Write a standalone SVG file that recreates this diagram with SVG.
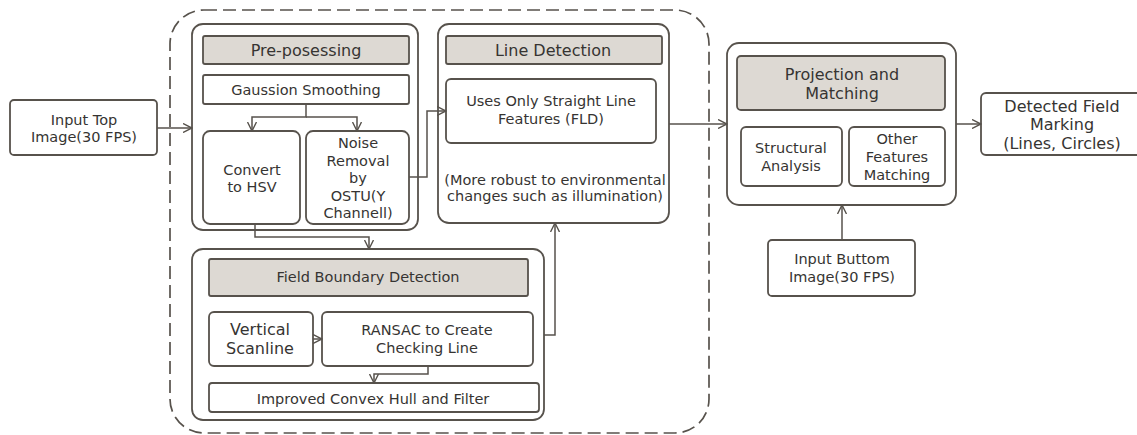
<svg xmlns="http://www.w3.org/2000/svg" width="1137" height="435" viewBox="0 0 1137 435">
<style>
.box{fill:#ffffff;stroke:#57524c;stroke-width:1.8}
.hdr{fill:#ddd9d3;stroke:#57524c;stroke-width:1.8}
.t{font-family:"DejaVu Sans",sans-serif;font-size:14.5px;fill:#363432;text-anchor:middle;dominant-baseline:central}
.h{font-size:16px}
.c{fill:none;stroke:#57524c;stroke-width:1.5}
</style>
<defs>
<marker id="ah" viewBox="0 0 10 10" refX="9" refY="5" markerWidth="10" markerHeight="10" markerUnits="userSpaceOnUse" orient="auto">
<path d="M0,0.5 L9,5 L0,9.5" fill="none" stroke="#57524c" stroke-width="1.4"/>
</marker>
</defs>
<rect width="1137" height="435" fill="#ffffff"/>
<rect x="170" y="10" width="539" height="423" rx="34" fill="none" stroke="#57524c" stroke-width="1.7" stroke-dasharray="13 6"/>

<g id="input-top">
<rect class="box" x="10" y="100" width="147" height="55" rx="4"/>
<text class="t" x="84" y="120">Input Top</text>
<text class="t" x="84" y="137">Image(30 FPS)</text>
</g>

<g id="pre-processing">
<rect class="box" x="192" y="24" width="226" height="206" rx="11"/>
<rect class="hdr" x="203" y="36" width="206" height="28" rx="2"/>
<text class="t h" x="306" y="50">Pre-posessing</text>
</g>
<g id="gaussian">
<rect class="box" x="203" y="75" width="206" height="29" rx="2"/>
<text class="t" x="306" y="90">Gaussion Smoothing</text>
</g>
<g id="convert-hsv">
<rect class="box" x="203" y="131" width="97" height="93" rx="7"/>
<text class="t" x="252" y="170">Convert</text>
<text class="t" x="252" y="187">to HSV</text>
</g>
<g id="noise-removal">
<rect class="box" x="306" y="131" width="103" height="93" rx="7"/>
<text class="t" x="358" y="143">Noise</text>
<text class="t" x="358" y="161">Removal</text>
<text class="t" x="358" y="178">by</text>
<text class="t" x="358" y="196">OSTU(Y</text>
<text class="t" x="358" y="213">Channell)</text>
</g>

<g id="line-detection">
<rect class="box" x="438" y="24" width="231" height="199" rx="11"/>
<rect class="hdr" x="446" y="36" width="216" height="28" rx="2"/>
<text class="t h" x="553" y="50">Line Detection</text>
<text class="t" x="555" y="180">(More robust to environmental</text>
<text class="t" x="555" y="196">changes such as illumination)</text>
</g>
<g id="straight-line">
<rect class="box" x="446" y="79" width="210" height="64" rx="5"/>
<text class="t" x="551" y="101">Uses Only Straight Line</text>
<text class="t" x="551" y="119">Features (FLD)</text>
</g>

<g id="field-boundary">
<rect class="box" x="192" y="249" width="352" height="171" rx="11"/>
<rect class="hdr" x="209" y="259" width="319" height="37" rx="2"/>
<text class="t" x="368" y="277">Field Boundary Detection</text>
</g>
<g id="vertical-scanline">
<rect class="box" x="209" y="312" width="104" height="54" rx="5"/>
<text class="t" style="font-size:16px" x="260" y="329">Vertical</text>
<text class="t" style="font-size:16px" x="260" y="348">Scanline</text>
</g>
<g id="ransac">
<rect class="box" x="322" y="312" width="211" height="54" rx="5"/>
<text class="t" x="427" y="330">RANSAC to Create</text>
<text class="t" x="427" y="348">Checking Line</text>
</g>
<g id="convex-hull">
<rect class="box" x="209" y="383" width="330" height="29" rx="3"/>
<text class="t" x="373" y="399">Improved Convex Hull and Filter</text>
</g>

<g id="projection">
<rect class="box" x="727" y="43" width="229" height="162" rx="12"/>
<rect class="hdr" x="737" y="56" width="208" height="54" rx="4"/>
<text class="t h" x="842" y="74">Projection and</text>
<text class="t h" x="842" y="93">Matching</text>
</g>
<g id="structural">
<rect class="box" x="741" y="127" width="101" height="59" rx="5"/>
<text class="t" x="791" y="148">Structural</text>
<text class="t" x="791" y="166">Analysis</text>
</g>
<g id="other-features">
<rect class="box" x="849" y="127" width="96" height="59" rx="5"/>
<text class="t" x="897" y="139">Other</text>
<text class="t" x="897" y="157">Features</text>
<text class="t" x="897" y="175">Matching</text>
</g>
<g id="input-bottom">
<rect class="box" x="768" y="240" width="147" height="56" rx="4"/>
<text class="t" x="842" y="259">Input Buttom</text>
<text class="t" x="842" y="277">Image(30 FPS)</text>
</g>
<g id="detected">
<rect class="box" x="981" y="93" width="170" height="62" rx="5"/>
<text class="t h" x="1062" y="106">Detected Field</text>
<text class="t h" x="1062" y="124">Marking</text>
<text class="t h" x="1062" y="143">(Lines, Circles)</text>
</g>

<g id="connectors">
<path class="c" d="M157,128 H192" marker-end="url(#ah)"/>
<path class="c" d="M306,104 V117 H252 V131" marker-end="url(#ah)"/>
<path class="c" d="M306,117 H357 V131" marker-end="url(#ah)"/>
<path class="c" d="M409,177 H427 V111 H446" marker-end="url(#ah)"/>
<path class="c" d="M255,224 V237 H369 V249" marker-end="url(#ah)"/>
<path class="c" d="M313,339 H322" marker-end="url(#ah)"/>
<path class="c" d="M428,366 V374 H374 V383" marker-end="url(#ah)"/>
<path class="c" d="M544,335 H555 V223" marker-end="url(#ah)"/>
<path class="c" d="M669,124 H727" marker-end="url(#ah)"/>
<path class="c" d="M842,240 V205" marker-end="url(#ah)"/>
<path class="c" d="M956,124 H981" marker-end="url(#ah)"/>
</g>
</svg>
